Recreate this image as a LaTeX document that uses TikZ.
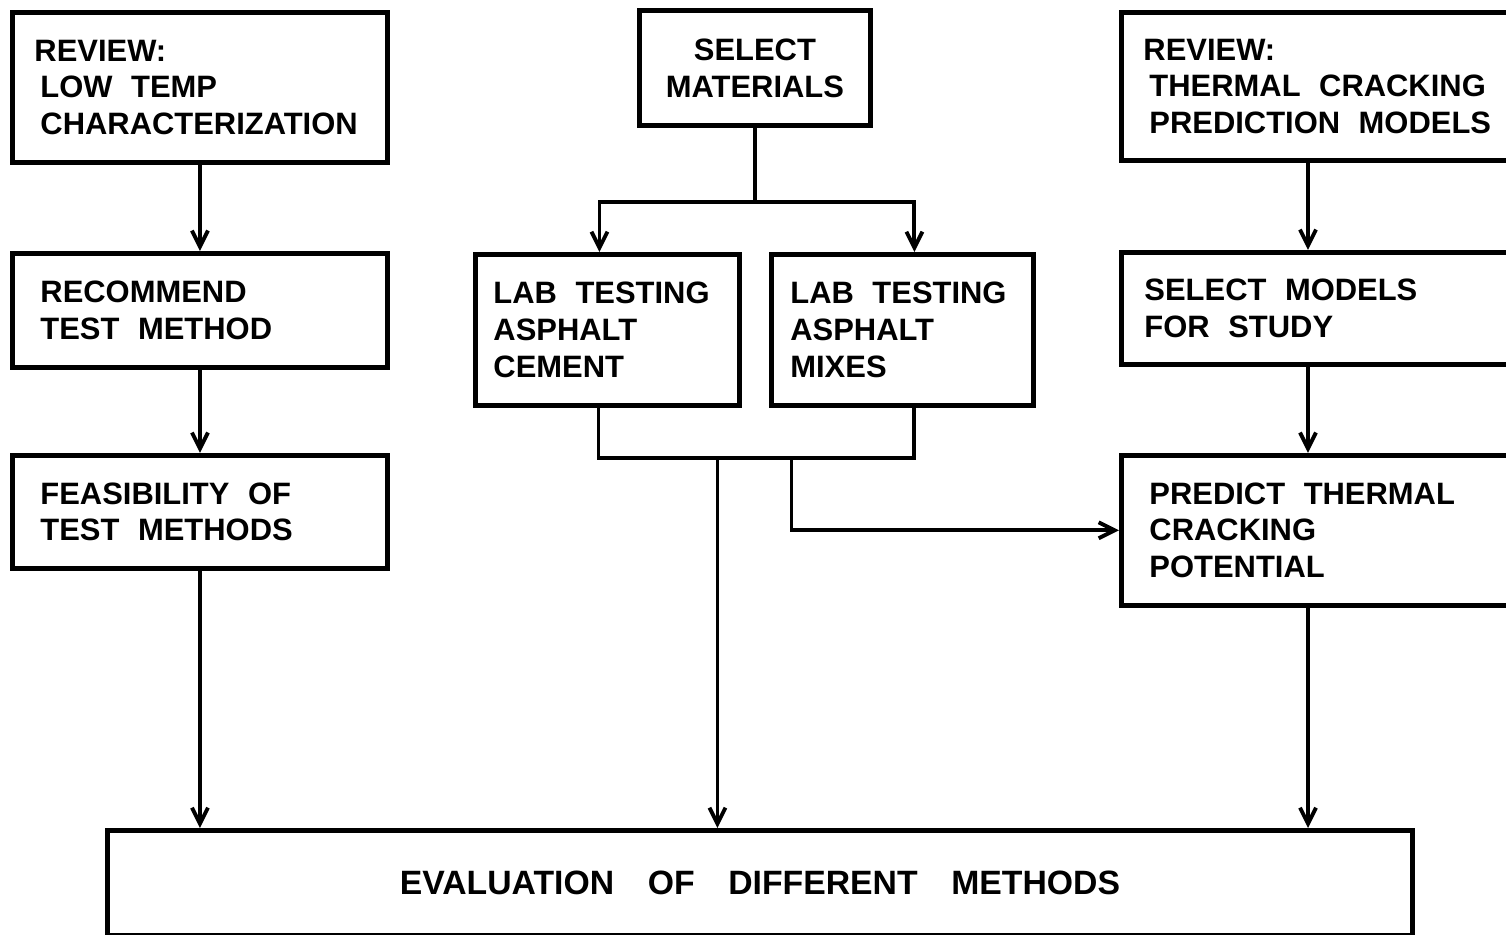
\documentclass[tikz,border=0pt]{standalone}
\usepackage{fontspec}
\setmainfont{Liberation Sans}
\usetikzlibrary{arrows.meta,positioning}
\newcommand{\boxfont}{\fontsize{8.8}{10.5}\selectfont\bfseries}
\newcommand{\evalfont}{\fontsize{9.6}{11}\selectfont\bfseries}

\begin{document}
\begin{tikzpicture}[node distance=.86cm and .27cm,box/.style={draw,line width=1.4pt,inner ysep=0pt,align=left,font=\boxfont,execute at begin node={\spaceskip=.6em plus .1em\relax}},arrow/.style={-{Straight Barb[length=1.6mm,width=1.6mm]},line width=1.1pt},link/.style={line width=1.1pt}]
\useasboundingbox (0,0) rectangle (15.06,-9.35);
% left column
\node[box,anchor=north west,inner xsep=.22cm,text width=3.31cm,minimum height=1.5cm] (review1) at (0.10,-0.10) {REVIEW:\\\hspace*{.06cm}LOW TEMP\\\hspace*{.06cm}CHARACTERIZATION};
\node[box,below=of review1,inner xsep=.28cm,text width=3.19cm,minimum height=1.14cm] (recommend) {RECOMMEND\\TEST METHOD};
\node[box,below=.83cm of recommend,inner xsep=.28cm,text width=3.19cm,minimum height=1.13cm] (feasible) {FEASIBILITY OF\\TEST METHODS};
% middle column
\node[box,anchor=north west,align=center,inner xsep=.2cm,text width=1.91cm,minimum height=1.15cm] (select) at (6.37,-0.08) {SELECT\\MATERIALS};
\node[box,anchor=north west,inner xsep=.18cm,text width=2.28cm,minimum height=1.51cm] (labcement) at (4.73,-2.52) {LAB TESTING\\ASPHALT\\CEMENT};
\node[box,right=of labcement,inner xsep=.19cm,text width=2.24cm,minimum height=1.51cm] (labmix) {LAB TESTING\\ASPHALT\\MIXES};
% right column
\node[box,anchor=north west,inner xsep=.22cm,text width=3.8cm,minimum height=1.48cm] (review2) at (11.19,-0.10) {REVIEW:\\\hspace*{.06cm}THERMAL CRACKING\\\hspace*{.06cm}PREDICTION MODELS};
\node[box,below=.87cm of review2,inner xsep=.23cm,text width=3.78cm,minimum height=1.12cm] (models) {SELECT MODELS\\FOR STUDY};
\node[box,below=of models,inner xsep=.28cm,text width=3.68cm,minimum height=1.5cm] (predict) {PREDICT THERMAL\\CRACKING\\POTENTIAL};
% bottom
\node[box,anchor=north west,align=center,font=\evalfont,inner xsep=.23cm,text width=12.59cm,minimum height=1.05cm] (eval) at (1.05,-8.28) {EVALUATION OF DIFFERENT METHODS};
\coordinate (col3) at (13.08,0);
\coordinate (fork) at ([yshift=-.74cm]select.south);
\coordinate (joinL) at ([xshift=-.09cm,yshift=-.5cm]labcement.south);
\coordinate (joinR) at ([xshift=.12cm,yshift=-.5cm]labmix.south);
\path (joinL) ++(1.19,0) coordinate (tapA) ++(.74,0) coordinate (tapB);
\draw[arrow] (review1) -- (recommend); \draw[arrow] (recommend) -- (feasible); \draw[arrow] (feasible) -- (feasible.south |- eval.north);
\draw[link] (select) -- (fork);
\draw[arrow] (fork) -| ([xshift=-.08cm]labcement.north); \draw[arrow] (fork) -| ([xshift=.12cm]labmix.north);
\draw[link] ([xshift=-.09cm]labcement.south) -- (joinL) -- (joinR) -- ([xshift=.12cm]labmix.south);
\draw[arrow] (tapA) -- (tapA |- eval.north);
\draw[arrow] (tapB) |- (predict.west);
\draw[arrow] (review2.south -| col3) -- (models.north -| col3); \draw[arrow] (models.south -| col3) -- (predict.north -| col3);
\draw[arrow] (predict.south -| col3) -- (eval.north -| col3);
\end{tikzpicture}
\end{document}
